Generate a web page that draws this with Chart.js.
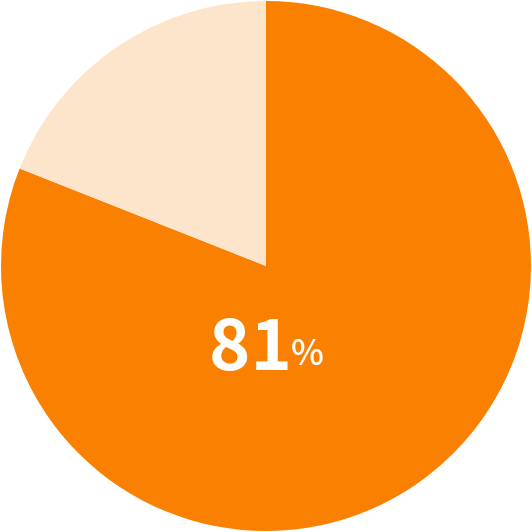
<!DOCTYPE html>
<html>
<head>
<meta charset="utf-8">
<script src="https://cdn.jsdelivr.net/npm/chart.js@4"></script>
<style>
  html, body { margin: 0; padding: 0; background: #fff; }
  #wrap { width: 532px; height: 532px; }
</style>
</head>
<body>
<div id="wrap"><canvas id="myChart" width="532" height="532"></canvas></div>
<script>
// chart data
const labels = ['Yes', 'No']
const values = [81, 19]
const colors = ['#F98000', '#FDE5CC']
const centerNumber = '81'
const centerUnit = '%'

const numFont = 'bold 71px "Noto Sans CJK JP"'
const unitFont = '500 35px "Noto Sans CJK JP"'

// draws the big percentage in the middle
const centerText = {
	id: 'centerText',
	afterDraw(chart) {
		const ctx = chart.ctx
		ctx.save()
		ctx.fillStyle = '#ffffff'
		ctx.textBaseline = 'alphabetic'
		ctx.textAlign = 'left'
		ctx.font = numFont
		const m = ctx.measureText(centerNumber)
		// squeeze the number a little so it fits 212..288 like the original
		const inkW = m.actualBoundingBoxRight + m.actualBoundingBoxLeft
		const sx = 76 / inkW
		ctx.save()
		ctx.translate(212, 370)
		ctx.scale(sx, 1)
		ctx.fillText(centerNumber, m.actualBoundingBoxLeft, 0)
		ctx.restore()
		ctx.font = unitFont
		const m2 = ctx.measureText(centerUnit)
		ctx.fillText(centerUnit, 292 + m2.actualBoundingBoxLeft, 365)
		ctx.restore()
	}
}

var ctx = document.getElementById('myChart').getContext('2d')
var myChart = new Chart(ctx, {
	type: 'pie',
	data: {
		labels: labels,
		datasets: [{
			data: values,
			backgroundColor: colors,
			borderWidth: 0
		}]
	},
	options: {
		responsive: false,
		animation: false,
		layout: { padding: 1 },
		plugins: {
			legend: { display: false },
			tooltip: { enabled: false }
		}
	},
	plugins: [centerText]
})
</script>
</body>
</html>
